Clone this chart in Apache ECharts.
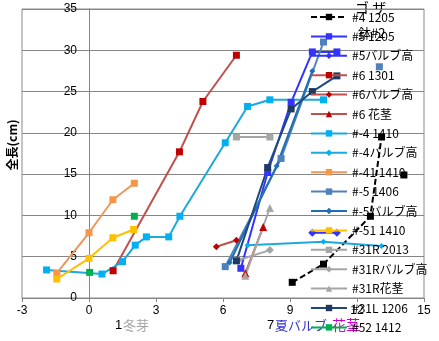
<!DOCTYPE html>
<html>
<head>
<meta charset="utf-8">
<script src="https://cdn.jsdelivr.net/npm/echarts@6/dist/echarts.min.js"></script>
<style>
  html, body { margin: 0; padding: 0; background: #fff; }
  #chart { width: 439px; height: 341px; }
</style>
</head>
<body>
<div id="chart"></div>
<script>
// Axis ranges and ticks
const xRange = { min: -3, max: 15, step: 3 };
const yRange = { min: 0, max: 35, step: 5 };

// Measurements per plant: [time, length in cm]; null marks a break in the line
const s4_1205    = [[9.1, 1.9], [10.5, 4.1], [12.6, 9.9], [13.1, 19.5], null, [14.1, 14.9]];
const s5_1205    = [[6.8, 3.6], [8.0, 15.2], [9.05, 23.7], [10.0, 29.8], [11.1, 29.8]];
const s5_bulb    = [[10.0, 7.9], [11.1, 7.9]];
const s6_1301    = [[1.08, 3.3], [4.05, 17.7], [5.1, 23.8], [6.6, 29.4]];
const s6_bulb    = [[5.7, 6.2], [6.6, 7.0]];
const s6_stem    = [[7.0, 3.0], [7.8, 8.6]];
const sm4_1410   = [[-1.9, 3.4], [0.58, 2.9], [1.5, 4.4], [2.07, 6.4], [2.57, 7.4], [3.57, 7.4], [4.07, 9.9], [6.1, 18.8], [7.1, 23.2], [8.1, 24.0], [10.5, 24.0]];
const sm4_bulb   = [[7.1, 6.4], [10.5, 6.8], [13.1, 6.3]];
const sm41_1410  = [[-1.44, 3.0], [0, 7.9], [1.07, 11.9], [2.03, 13.9]];
const sm5_1406   = [[6.1, 3.8], [8.6, 16.9], [10.5, 31.0], null, [13.0, 28.0]];
const sm5_bulb   = [[6.3, 4.3], [8.4, 16.0], [10.0, 27.5]];
const sm51_1410  = [[-1.44, 2.3], [0, 4.8], [1.07, 7.3], [2.0, 8.3]];
const s31R_2013  = [[6.6, 19.5], [8.1, 19.5]];
const s31R_bulb  = [[6.7, 4.6], [8.1, 5.8]];
const s31R_stem  = [[7.0, 2.7], [8.1, 10.9]];
const s31L_1206  = [[6.6, 4.5], [8.0, 15.8], [9.05, 22.9], [10.0, 25.0], [11.1, 26.9]];
const s52_1412   = [[0.03, 3.1], null, [2.03, 9.9]];

const seriesDefs = [
  { name: '#4 1205',     data: s4_1205,   color: '#000000', line: '#000000', symbol: 'rect',     size: 7, dash: [6, 3] },
  { name: '#5 1205',     data: s5_1205,   color: '#3333ff', line: '#3333ff', symbol: 'rect',     size: 7 },
  { name: '#5バルブ高',  data: s5_bulb,   color: '#3333ff', line: '#3333ff', symbol: 'diamond',  size: 8 },
  { name: '#6 1301',     data: s6_1301,   color: '#c00000', line: '#c0504d', symbol: 'rect',     size: 7 },
  { name: '#6バルブ高',  data: s6_bulb,   color: '#c00000', line: '#c0504d', symbol: 'diamond',  size: 7 },
  { name: '#6 花茎',     data: s6_stem,   color: '#c00000', line: '#c0504d', symbol: 'triangle', size: 8 },
  { name: '#-4 1410',    data: sm4_1410,  color: '#00b0f0', line: '#1fa8dc', symbol: 'rect',     size: 7 },
  { name: '#-4バルブ高', data: sm4_bulb,  color: '#00b0f0', line: '#1fa8dc', symbol: 'diamond',  size: 6 },
  { name: '#-41 1410',   data: sm41_1410, color: '#f79646', line: '#f0965a', symbol: 'rect',     size: 7 },
  { name: '#-5 1406',    data: sm5_1406,  color: '#4f81bd', line: '#4f81bd', symbol: 'rect',     size: 7 },
  { name: '#-5バルブ高', data: sm5_bulb,  color: '#1f6fb5', line: '#1f6fb5', symbol: 'diamond',  size: 6 },
  { name: '#-51 1410',   data: sm51_1410, color: '#ffc000', line: '#ffc000', symbol: 'rect',     size: 7 },
  { name: '#31R 2013',   data: s31R_2013, color: '#a6a6a6', line: '#a6a6a6', symbol: 'rect',     size: 7 },
  { name: '#31Rバルブ高',data: s31R_bulb, color: '#a6a6a6', line: '#a6a6a6', symbol: 'diamond',  size: 8 },
  { name: '#31R花茎',    data: s31R_stem, color: '#a6a6a6', line: '#a6a6a6', symbol: 'triangle', size: 8 },
  { name: '#31L 1206',   data: s31L_1206, color: '#1f3864', line: '#1f497d', symbol: 'rect',     size: 7 },
  { name: '#52 1412',    data: s52_1412,  color: '#00b050', line: '#00b050', symbol: 'rect',     size: 7 }
];

const series = seriesDefs.map(d => ({
  name: d.name,
  type: 'line',
  data: d.data.map(p => (p === null ? ['-', '-'] : p)),
  connectNulls: false,
  symbol: d.symbol,
  symbolSize: d.size,
  showAllSymbol: true,
  animation: false,
  itemStyle: { color: d.color, borderWidth: 0 },
  lineStyle: { color: d.line, width: 2, type: d.dash || 'solid' },
  emphasis: { disabled: true }
}));

const chart = echarts.init(document.getElementById('chart'), null, { renderer: 'canvas' });

const sansFont = 'Liberation Sans, Noto Sans CJK JP, sans-serif';
const jpFont = 'Noto Sans CJK JP, sans-serif';

// plot box
const gridLeft = 22, gridRight = 15, gridTop = 9, gridBottom = 43;
const plotWidth = 439 - gridLeft - gridRight;
// the vertical axis crosses the horizontal one at x = 0
const yAxisShift = plotWidth * (0 - xRange.min) / (xRange.max - xRange.min);

chart.setOption({
  animation: false,
  grid: {
    left: gridLeft, right: gridRight, top: gridTop, bottom: gridBottom,
    containLabel: false,
    outerBoundsMode: 'none',
    show: true, borderColor: '#8a8a8a', borderWidth: 1
  },
  xAxis: {
    type: 'value',
    min: xRange.min, max: xRange.max, interval: xRange.step,
    axisLine: { show: true, onZero: false, lineStyle: { color: '#868686', width: 1 } },
    axisTick: { show: true, length: 4, lineStyle: { color: '#868686' } },
    axisLabel: { color: '#000', fontSize: 12, fontFamily: sansFont, margin: 7 },
    splitLine: { show: false }
  },
  yAxis: {
    type: 'value',
    min: yRange.min, max: yRange.max, interval: yRange.step,
    offset: -yAxisShift,
    axisLine: { show: true, onZero: false, lineStyle: { color: '#868686', width: 1 } },
    axisTick: { show: false },
    axisLabel: { color: '#000', fontSize: 12, fontFamily: sansFont, margin: 12 },
    splitLine: { show: true, lineStyle: { color: '#868686', width: 1 } }
  },
  legend: {
    orient: 'vertical',
    left: 310,
    top: 10,
    itemWidth: 36,
    itemHeight: 8,
    itemGap: 5.4,
    padding: 0,
    selectedMode: false,
    textStyle: { color: '#000', fontSize: 12, lineHeight: 14, fontFamily: jpFont },
    data: seriesDefs.map(d => d.name)
  },
  series: series,
  graphic: [
    {
      type: 'text', x: 12, y: 145, rotation: Math.PI / 2,
      style: { text: '全長(cm)', font: 'bold 12px ' + jpFont, fill: '#000', align: 'center', verticalAlign: 'middle' }
    },
    { type: 'text', x: 115, y: 325, style: { text: '1', font: '13px ' + sansFont, fill: '#000', verticalAlign: 'middle' } },
    { type: 'text', x: 123, y: 325, style: { text: '冬芽', font: '13px ' + jpFont, fill: '#a6a6a6', verticalAlign: 'middle' } },
    { type: 'text', x: 267, y: 325, style: { text: '7', font: '13px ' + sansFont, fill: '#000', verticalAlign: 'middle' } },
    { type: 'text', x: 275, y: 325, style: { text: '夏バルブ', font: '13px ' + jpFont, fill: '#3333cc', verticalAlign: 'middle' } },
    { type: 'text', x: 332, y: 325, style: { text: '花茎', font: '14px ' + jpFont, fill: '#cc00cc', verticalAlign: 'middle' } },
    { type: 'text', x: 355, y: 8, style: { text: 'ゴ ザ', font: '14px ' + jpFont, fill: '#000', verticalAlign: 'middle' } },
    { type: 'text', x: 358, y: 33, style: { text: '鉢#2', font: '13px ' + jpFont, fill: '#000', verticalAlign: 'middle' } }
  ]
});
</script>
</body>
</html>
